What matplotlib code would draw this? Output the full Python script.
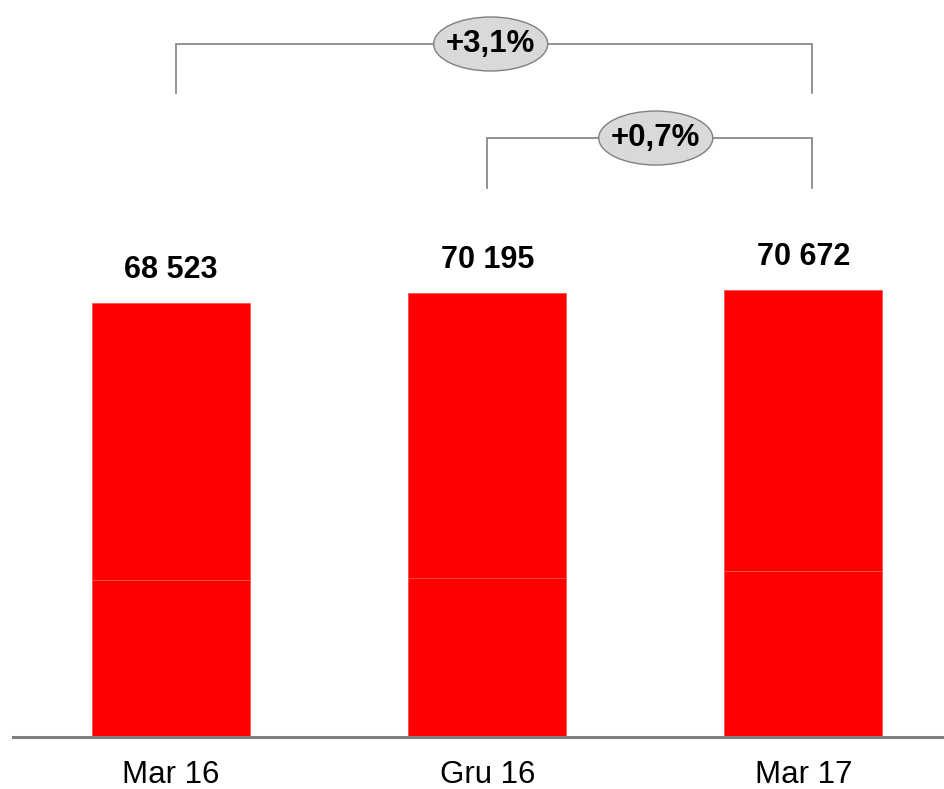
import matplotlib
matplotlib.use("Agg")
import matplotlib.pyplot as plt
from matplotlib.patches import Ellipse

plt.rcParams['font.family'] = ['Liberation Sans', 'DejaVu Sans']

categories = ["Mar 16", "Gru 16", "Mar 17"]
totals = [68523, 70195, 70672]
bottom_part = [24800, 25150, 26250]
top_part = [t - b for t, b in zip(totals, bottom_part)]
value_labels = ["68 523", "70 195", "70 672"]

# comparisons: (from index, to index, label)
comparisons = [(0, 2, "+3,1%"), (1, 2, "+0,7%")]

W, H = 945, 789
fig = plt.figure(figsize=(W / 100, H / 100), dpi=100)
ax_left_px, ax_bottom_px = 13, 52
ax = fig.add_axes([ax_left_px / W, ax_bottom_px / H, 1 - ax_left_px / W, 1 - ax_bottom_px / H])

x = list(range(len(categories)))
red = "#ff0000"
ax.bar(x, bottom_part, width=0.5, color=red, edgecolor="#ff5050", linewidth=0.6)
ax.bar(x, top_part, bottom=bottom_part, width=0.5, color=red, edgecolor="#ff5050", linewidth=0.6)

ax.set_xlim(-0.5, 2.448)
ax.set_ylim(0, 116450)

for xi, t, lab in zip(x, totals, value_labels):
    ax.annotate(lab, (xi, t), xytext=(0, 13), textcoords="offset points",
                ha="center", va="bottom", fontsize=22, fontweight="bold", color="black")

for xi, c in zip(x, categories):
    ax.annotate(c, (xi, 0), xytext=(0, -27.5), textcoords="offset points",
                ha="center", va="center", fontsize=22.5, color="black")

# brackets
gray = "#808080"
levels = [(109500, 101750), (94640, 86740)]
ell_frac = [0.4945, 0.52]
px_x = 316.0   # pixels per x unit
px_y = 1 / 158.0  # pixels per y unit
for (i0, i1, lab), (ytop, ybot), fr in zip(comparisons, levels, ell_frac):
    xa = i0 + (0.017 if i0 == 0 else -0.002)
    xb = i1 + 0.027
    xm = xa + fr * (xb - xa)
    ax.plot([xa, xa, xb, xb], [ybot, ytop, ytop, ybot], color=gray, lw=1.2,
            solid_joinstyle="miter", zorder=2)
    e = Ellipse((xm, ytop), width=114 / px_x, height=54 / px_y,
                facecolor="#d9d9d9", edgecolor=gray, lw=1.0, zorder=3)
    ax.add_patch(e)
    ax.text(xm, ytop, lab, ha="center", va="center", fontsize=22.5,
            fontweight="bold", color="black", zorder=4)

for s in ["top", "right", "left"]:
    ax.spines[s].set_visible(False)
ax.spines["bottom"].set_color(gray)
ax.spines["bottom"].set_linewidth(2.2)
ax.set_xticks([])
ax.set_yticks([])
ax.patch.set_alpha(0)

fig.savefig("out.png", dpi=100)
